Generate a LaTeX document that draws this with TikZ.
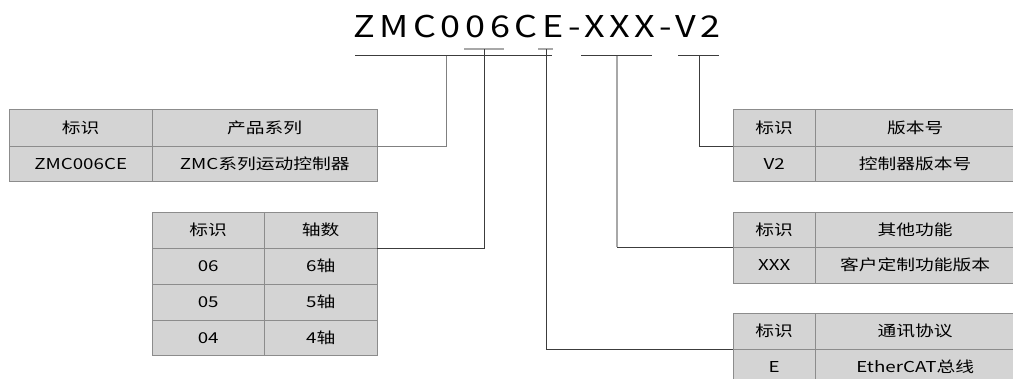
\documentclass[tikz,border=0pt]{standalone}
\usepackage{fontspec}
\setmainfont[FakeStretch=1.25]{Noto Sans CJK SC}
\newfontfamily\codefont[LetterSpace=15.5,FakeStretch=1.2]{Noto Sans CJK SC}
\usetikzlibrary{positioning}
\definecolor{cellFill}{HTML}{D4D4D4}
\definecolor{cellLine}{HTML}{8C8C8C}
\definecolor{linkDark}{HTML}{3C3C3C}
\definecolor{linkGray}{HTML}{A8A8A8}
\tikzset{
	cell/.style={draw=cellLine, fill=cellFill, anchor=north west, inner sep=0,
		minimum height=#1, font=\fontsize{15}{18}\selectfont},
	cell/.default=36pt,
	link/.style={draw=linkDark, line width=1pt},
	softlink/.style={draw=linkGray, line width=1.4pt},
	mark line/.style={draw=linkGray, line width=1.4pt}
}
\begin{document}
\begin{tikzpicture}[x=1pt,y=-1pt]
	\useasboundingbox (0,0) rectangle (1013,378);
	\clip (0,0) rectangle (1013,378);
	% model code
	\node[anchor=base, inner sep=0, font=\codefont\fontsize{30}{34}\selectfont] (code) at (537,37) {ZMC006CE-XXX-V2};
	
	% series table
	\node[cell=37pt, minimum width=143pt] (serA) at (9,109) {标识};
	\node[cell=37pt, minimum width=225pt] (serB) at (152,109) {产品系列};
	\node[cell=35pt, minimum width=143pt] (serC) at (9,146) {ZMC006CE};
	\node[cell=35pt, minimum width=225pt] (serD) at (152,146) {ZMC系列运动控制器};
	
	% axis table
	\node[cell, minimum width=112pt] (axA) at (152,212) {标识};
	\node[cell, minimum width=113pt] (axB) at (264,212) {轴数};
	\node[cell, minimum width=112pt] (axC) at (152,248) {06};
	\node[cell, minimum width=113pt] (axD) at (264,248) {6轴};
	\node[cell, minimum width=112pt] (axE) at (152,284) {05};
	\node[cell, minimum width=113pt] (axF) at (264,284) {5轴};
	\node[cell=35pt, minimum width=112pt] (axG) at (152,320) {04};
	\node[cell=35pt, minimum width=113pt] (axH) at (264,320) {4轴};
	
	% version table
	\node[cell=37pt, minimum width=82pt] (verA) at (733,109) {标识};
	\node[cell=37pt, minimum width=200pt] (verB) at (815,109) {版本号};
	\node[cell=35pt, minimum width=82pt] (verC) at (733,146) {V2};
	\node[cell=35pt, minimum width=200pt] (verD) at (815,146) {控制器版本号};
	
	% custom table
	\node[cell=35pt, minimum width=82pt] (cusA) at (733,212) {标识};
	\node[cell=35pt, minimum width=200pt] (cusB) at (815,212) {其他功能};
	\node[cell=36pt, minimum width=82pt] (cusC) at (733,247) {XXX};
	\node[cell=36pt, minimum width=200pt] (cusD) at (815,247) {客户定制功能版本};
	
	% bus table
	\node[cell, minimum width=82pt] (busA) at (733,313) {标识};
	\node[cell, minimum width=200pt] (busB) at (815,313) {通讯协议};
	\node[cell, minimum width=82pt] (busC) at (733,349) {E};
	\node[cell, minimum width=200pt] (busD) at (815,349) {EtherCAT总线};
	
	% marks under the code
	\coordinate (serL) at (355,55.5);
	\coordinate (serR) at (552,55.5);
	\coordinate (axL) at (464,49);
	\coordinate (axR) at (504,49);
	\coordinate (busL) at (538,49);
	\coordinate (busR) at (553,49);
	\coordinate (cusL) at (581,55.5);
	\coordinate (cusR) at (652,55.5);
	\coordinate (verL) at (678,55.5);
	\coordinate (verR) at (719,55.5);
	\draw[link, line width=0.8pt] (serL) -- (serR);
	\draw[mark line] (axL) -- (axR);
	\draw[mark line] (busL) -- (busR);
	\draw[link, line width=0.8pt] (cusL) -- (cusR);
	\draw[link, line width=0.8pt] (verL) -- (verR);
	
	% connectors
	\draw[link, draw=gray] (446,55.5) |- (serB.south east);
	\draw[link] (axL) ++(20,0) |- (axD.north east);
	\draw[link] (busL) ++(8,0) |- (busC.north west);
	\draw[softlink] (cusL) ++(36,0) -- ++(0,191.5);
	\draw[link] (617,247) -- (cusC.north west);
	\draw[link] (verL) ++(21,0) |- (verC.north west);
\end{tikzpicture}
\end{document}
